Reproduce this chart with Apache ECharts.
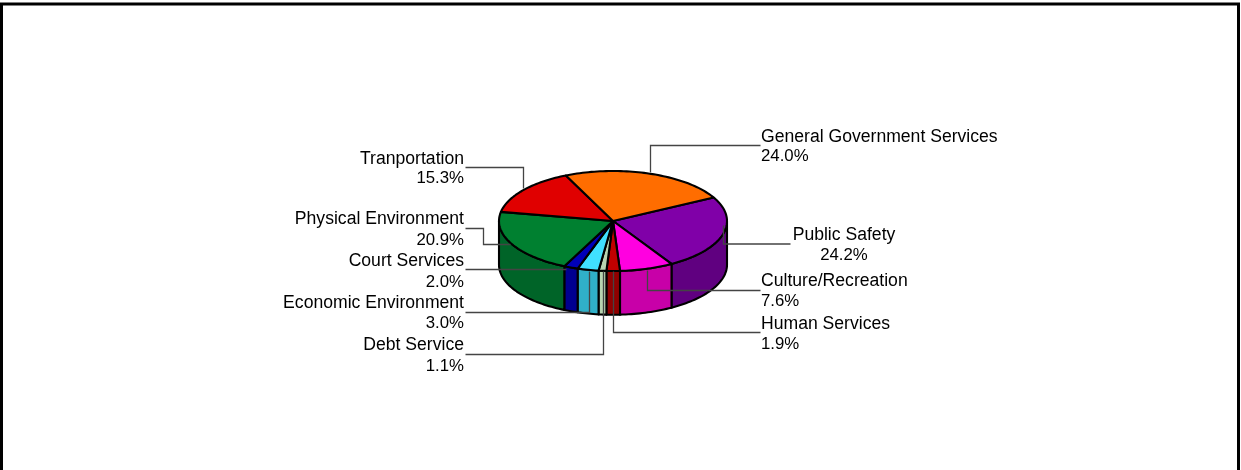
<!DOCTYPE html>
<html>
<head>
<meta charset="utf-8">
<style>html,body{margin:0;padding:0;background:#fff}#c{width:1241px;height:470px}</style>
<script src="https://cdn.jsdelivr.net/npm/echarts@6/dist/echarts.min.js"></script>
</head>
<body>
<div id="c"></div>
<script>
const categories = ['Public Safety','Culture/Recreation','Human Services','Debt Service','Economic Environment','Court Services','Physical Environment','Tranportation','General Government Services'];
const shares = [24.2,7.6,1.9,1.1,3.0,2.0,20.9,15.3,24.0];
const topColors = ['#8000A8','#FF00E0','#C00000','#B8D4B0','#40E0FF','#0000B8','#008030','#E00000','#FF6D00'];
const sideColors = ['#600080','#C800A8','#900000','#B8D4B0','#30B0C8','#000090','#006428','#A80000','#C05200'];
const startAngle = 28;
const depth = 0.875;

const total = shares.reduce((a,b)=>a+b,0);
let cum = 0;
const rows = shares.map(v=>{const a=startAngle-cum/total*360;cum+=v;return [v,a,startAngle-cum/total*360];});

function arc(api,a,b,dy){
  const pts=[];const n=Math.max(2,Math.ceil(Math.abs(a-b)/1.5));
  for(let i=0;i<=n;i++){const t=(a+(b-a)*i/n)*Math.PI/180;pts.push(api.coord([Math.cos(t),Math.sin(t)-dy]));}
  return pts;
}
function renderItem(params,api){
  const i=params.dataIndex,a=api.value(1),b=api.value(2),kids=[];
  const s=Math.min(a,0),e=Math.max(b,-180);
  const line={stroke:'#000',lineWidth:2.1,lineJoin:'round'};
  if(s>e){
    const pts=arc(api,s,e,0).concat(arc(api,e,s,depth));
    kids.push({type:'polygon',shape:{points:pts},style:Object.assign({fill:sideColors[i]},line)});
  }
  const pts=[api.coord([0,0])].concat(arc(api,a,b,0));
  kids.push({type:'polygon',shape:{points:pts},style:Object.assign({fill:topColors[i]},line)});
  return {type:'group',children:kids};
}

// leader layouts, one per category: polyline in page pixels, label anchor
const leaders = [
  {pts:[[790,243.5],[723,243.5],[723,225]],x:844,y:225,lh:20,align:'center'},
  {pts:[[760,290],[647,290],[647,270]],x:761,y:271,lh:20,align:'left'},
  {pts:[[760,332],[613,332],[613,271]],x:761,y:314,lh:20,align:'left'},
  {pts:[[465,354],[603,354],[603,271]],x:464,y:335,lh:21,align:'right'},
  {pts:[[465,312],[589,312],[589,271]],x:464,y:293,lh:20.5,align:'right'},
  {pts:[[465,269],[566,269]],x:464,y:251,lh:21,align:'right'},
  {pts:[[465,228],[483,228],[483,244],[510,244]],x:464,y:209,lh:21,align:'right'},
  {pts:[[465,167],[523,167],[523,188]],x:464,y:150,lh:19,align:'right'},
  {pts:[[760,145],[650,145],[650,172]],x:761,y:128,lh:19,align:'left'}
];
const graphics=[];
leaders.forEach((l,i)=>{
  graphics.push({type:'polyline',z:20,shape:{points:l.pts.map(p=>[p[0]+.5,p[1]+.5])},style:{fill:null,stroke:'#444',lineWidth:1.3}});
  graphics.push({type:'text',z:21,x:l.x,y:l.y,style:{text:'{a|'+categories[i]+'}\n{b|'+shares[i].toFixed(1)+'%}',fill:'#000',align:l.align,verticalAlign:'top',rich:{
    a:{font:'17.6px "Liberation Sans", Arial, sans-serif',lineHeight:l.lh,align:l.align},
    b:{font:'16.8px "Liberation Sans", Arial, sans-serif',lineHeight:l.lh,align:l.align}}}});
});
graphics.push({type:'polyline',z:30,shape:{points:[[1.5,470],[1.5,4],[1238.5,4],[1238.5,470]]},style:{fill:null,stroke:'#000',lineWidth:3}});

const chart=echarts.init(document.getElementById('c'),null,{renderer:'canvas'});
chart.setOption({
  animation:false,
  backgroundColor:'#fff',
  grid:{left:499,width:228,top:171,height:100},
  xAxis:{type:'value',min:-1,max:1,show:false},
  yAxis:{type:'value',min:-1,max:1,show:false},
  graphic:graphics,
  series:[{type:'custom',coordinateSystem:'cartesian2d',clip:false,renderItem,data:rows,
    encode:{x:1,y:2},silent:true}]
});
</script>
</body>
</html>
